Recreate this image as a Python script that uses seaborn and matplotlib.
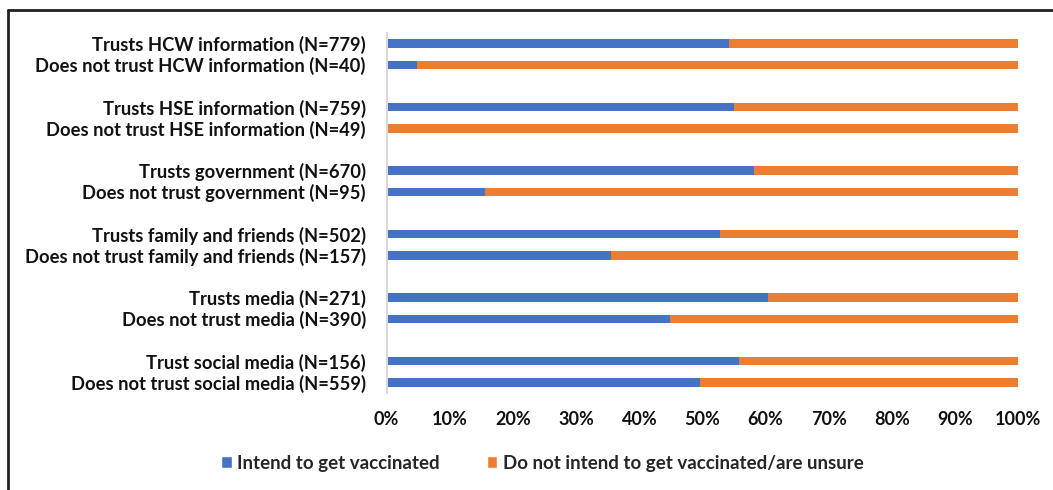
import matplotlib
matplotlib.use("Agg")
import matplotlib.pyplot as plt
import numpy as np
import pandas as pd
import seaborn as sns
from matplotlib.lines import Line2D
from matplotlib.patches import Patch

# Trust groups (each source has a "trusts" and a "does not trust" row)
categories = [
    "Trusts HCW information (N=779)",
    "Does not trust HCW information (N=40)",
    "Trusts HSE information (N=759)",
    "Does not trust HSE information (N=49)",
    "Trusts government (N=670)",
    "Does not trust government (N=95)",
    "Trusts family and friends (N=502)",
    "Does not trust family and friends (N=157)",
    "Trusts media (N=271)",
    "Does not trust media (N=390)",
    "Trust social media (N=156)",
    "Does not trust social media (N=559)",
]
# Percentage intending to get vaccinated
intend = [54.2, 4.8, 55.0, 0.0, 58.2, 15.6, 52.7, 35.5, 60.4, 44.8, 55.7, 49.6]
# Percentage not intending / unsure
not_intend = [100 - v for v in intend]
x_ticks = [0, 10, 20, 30, 40, 50, 60, 70, 80, 90, 100]
x_tick_labels = [f"{t}%" for t in x_ticks]
legend_labels = ["Intend to get vaccinated",
                 "Do not intend to get vaccinated/are unsure"]

BLUE = "#4472C4"
ORANGE = "#ED7D31"

sns.set_theme(style="white")
plt.rcParams["font.family"] = ["Lato", "DejaVu Sans"]
plt.rcParams["font.weight"] = "bold"

# Rows come in pairs separated by an empty slot
pos = [(i // 2) * 3 + (i % 2) for i in range(len(categories))]
df = pd.DataFrame({
    "category": categories,
    "pos": pos,
    "intend": intend,
    "total": [a + b for a, b in zip(intend, not_intend)],
})

fig = plt.figure(figsize=(10.53, 4.90), dpi=100)
ax = fig.add_axes([0.3672, 0.198, 0.5999, 0.7347])

sns.barplot(data=df, x="total", y="pos", orient="h", native_scale=True,
            color=ORANGE, width=0.4, saturation=1, ax=ax, linewidth=0)
sns.barplot(data=df, x="intend", y="pos", orient="h", native_scale=True,
            color=BLUE, width=0.4, saturation=1, ax=ax, linewidth=0)

ax.set_xlim(0, 100)
ax.set_ylim(16.5, -0.5)
ax.set_yticks(pos)
ax.set_yticklabels(categories, fontsize=13.2, fontweight="bold", color="#111111")
ax.set_xticks(x_ticks)
ax.set_xticklabels(x_tick_labels, fontsize=13, fontweight="bold", color="#111111")
ax.tick_params(axis="y", length=0, pad=15)
ax.tick_params(axis="x", length=0, pad=13)
ax.set_xlabel("")
ax.set_ylabel("")

for side in ["top", "right", "bottom"]:
    ax.spines[side].set_visible(False)
ax.spines["left"].set_color("#d9d9d9")
ax.spines["left"].set_linewidth(1.5)

handles = [Patch(facecolor=BLUE), Patch(facecolor=ORANGE)]
fig.legend(handles, legend_labels, loc="center", bbox_to_anchor=(0.515, 0.055),
           ncol=2, frameon=False, handlelength=0.55,
           handleheight=0.55, handletextpad=0.3, columnspacing=2.5,
           prop={"weight": "bold", "size": 13.5})

# Outer frame: top and left edges
fig.add_artist(Line2D([8 / 1053, 1], [1 - 10 / 490, 1 - 10 / 490],
                      transform=fig.transFigure, color="#222222", lw=2))
fig.add_artist(Line2D([8 / 1053, 8 / 1053], [0, 1 - 10 / 490],
                      transform=fig.transFigure, color="#222222", lw=2))

fig.savefig("out.png", dpi=100, facecolor="white")
